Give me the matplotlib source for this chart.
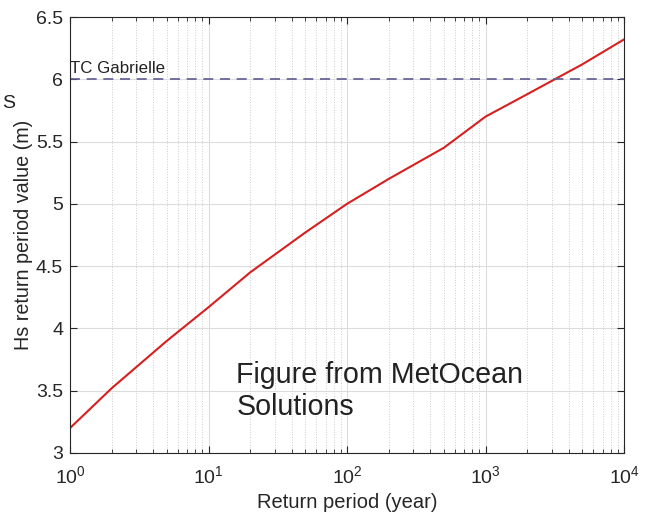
# Hs return period curve (log x) with TC Gabrielle reference level
import numpy as np
import matplotlib.pyplot as plt

plt.rcParams['font.family'] = ['Liberation Sans', 'DejaVu Sans']
plt.rcParams['mathtext.fontset'] = 'custom'
plt.rcParams['mathtext.rm'] = 'Liberation Sans'
plt.rcParams['mathtext.it'] = 'Liberation Sans'

period = [1, 2, 5, 10, 20, 50, 100, 200, 500, 1000, 2000, 5000, 10000]
hs     = [3.20, 3.52, 3.90, 4.17, 4.45, 4.77, 5.00, 5.20, 5.45, 5.70, 5.88, 6.12, 6.32]
gabrielle = 6.0

fig = plt.figure(figsize=(6.52, 5.14), dpi=100)
ax = fig.add_axes([70/652, 61/514, 554/652, 436/514])

ax.plot(period, hs, color='#d62020', lw=1.5)
ax.axhline(gabrielle, color='#5c5c8e', ls=(0, (6, 4)), lw=1.2)
ax.text(1.0, gabrielle + 0.025, 'TC Gabrielle', fontsize=12.2, color='#222222', va='bottom', ha='left')

ax.set_xscale('log')
ax.set_xlim(1, 1e4)
ax.set_ylim(3, 6.5)
ax.set_yticks(np.arange(3, 6.51, 0.5))
ax.set_yticklabels(['3', '3.5', '4', '4.5', '5', '5.5', '6', '6.5'])

ax.grid(which='major', color='#dddddd', lw=0.8, ls='-')
ax.grid(which='minor', axis='x', color='#cccccc', lw=0.7, ls=':')
ax.tick_params(which='both', direction='in', top=True, right=True, labelsize=14, colors='#262626')
ax.tick_params(which='major', length=5)
ax.tick_params(which='minor', length=3)
ax.tick_params(axis='x', which='major', pad=9)
ax.tick_params(axis='y', which='major', pad=5)
for s in ax.spines.values():
    s.set_color('#262626')
    s.set_linewidth(0.8)

ax.set_xlabel('Return period (year)', fontsize=14.5, color='#262626', labelpad=4)
ax.set_ylabel('Hs return period value (m)', fontsize=14.2, color='#262626', labelpad=2)

ax.text(0.30, 0.21, 'Figure from MetOcean\nSolutions', transform=ax.transAxes,
        fontsize=20.6, color='#222222', va='top', ha='left', linespacing=1.15)
fig.text(2/652, 1 - 103/514, 'S', fontsize=14, color='#222222', va='center')

plt.savefig('out.png', dpi=100)
